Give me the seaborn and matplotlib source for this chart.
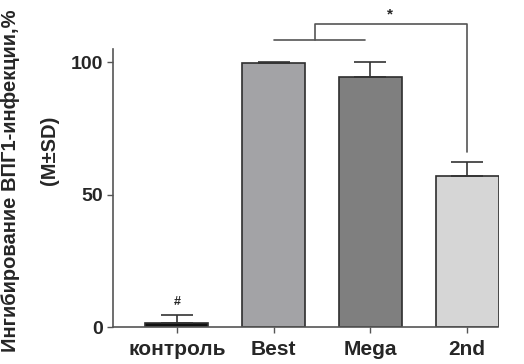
import matplotlib
matplotlib.use('Agg')
import matplotlib.pyplot as plt
import seaborn as sns
import numpy as np
import pandas as pd

groups = ['контроль', 'Best', 'Mega', '2nd']
means = [1.5, 99.7, 94.5, 57.0]
sds = [3.0, 0.4, 5.7, 5.5]
colors = ['#111111', '#a2a2a7', '#7f7f7f', '#d6d6d6']

sns.set_style('ticks')
plt.rcParams['font.family'] = ['Liberation Sans', 'DejaVu Sans']
plt.rcParams['font.weight'] = 'bold'

df = pd.DataFrame({'group': groups, 'mean': means})

fig = plt.figure(figsize=(5.24, 3.64), dpi=100)
ax = fig.add_axes([113/524, 37/364, (498.5-113)/524, 278/364])

sns.barplot(data=df, x='group', y='mean', hue='group', palette=colors, legend=False,
            width=0.65, edgecolor='#2e2e2e', linewidth=1.2, ax=ax)
x = np.arange(len(groups))
ax.errorbar(x, means, yerr=[np.zeros(len(sds)), sds], fmt='none', ecolor='#333333',
            elinewidth=1.2, capsize=11.5, capthick=1.2)

ax.set_xlim(-0.66, 3.325)
ax.set_ylim(0, 105)
ax.set_yticks([0, 50, 100])
ax.set_xlabel('')
ax.set_ylabel('')
ax.tick_params(axis='y', labelsize=14, width=1, length=4, pad=3, color='#555555')
ax.tick_params(axis='x', labelsize=15, width=1, length=4.5, pad=5, color='#555555')
for lab in ax.get_xticklabels() + ax.get_yticklabels():
    lab.set_fontweight('bold')
sns.despine(ax=ax)
for s in ['left', 'bottom']:
    ax.spines[s].set_color('#555555')
    ax.spines[s].set_linewidth(1.2)

# axis title, two separate lines as in the original
fig.text(11/524, 1 - 181/364, 'Ингибирование ВПГ1-инфекции,%', rotation=90,
         ha='center', va='center', fontsize=14.5, fontweight='bold')
fig.text(49/524, 1 - 150/364, '(M±SD)', rotation=90,
         ha='center', va='center', fontsize=14.5, fontweight='bold')

# significance marks
ax.text(0, means[0] + sds[0] + 2.5, '#', ha='center', va='bottom', fontsize=9)
ax.plot([1.0, 1.95], [108.3, 108.3], color='#555555', lw=1.2, clip_on=False)
ax.plot([1.43, 1.43, 3.0, 3.0], [108.3, 114.3, 114.3, 66], color='#555555', lw=1.2, clip_on=False)
ax.text(2.2, 115.5, '*', ha='center', va='bottom', fontsize=11)

fig.savefig('out.png', dpi=100)
